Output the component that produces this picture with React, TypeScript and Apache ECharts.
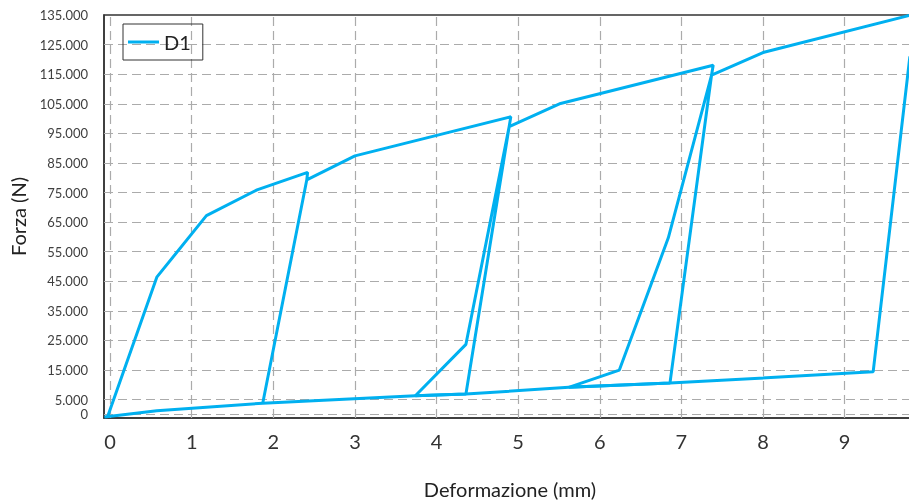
import React, { useEffect, useRef } from "react";
import * as echarts from "echarts";

// Main loading / unloading path (Deformazione mm, Forza N)
const cycleX = [-0.03, 0.572, 1.18, 1.8, 2.42, 2.41, 1.87, 2.41, 3.0, 4.91, 4.89, 4.36, 3.74, 4.36, 4.89, 5.52, 7.39, 7.37, 6.86, 5.62, 6.24, 6.84, 7.37, 8.0, 9.8];
const cycleY = [-700, 46400, 67200, 75900, 81800, 79300, 3800, 79300, 87400, 100600, 97300, 6900, 6330, 23700, 97300, 105100, 118000, 114700, 10600, 9160, 15000, 59700, 114700, 122300, 134900];

// Lower (residual) path
const baseX = [-0.07, 0.572, 1.87, 3.74, 4.36, 5.62, 6.86, 9.35, 9.8];
const baseY = [-900, 1280, 3800, 6330, 6900, 9160, 10600, 14400, 121000];

const xTicks = [0, 1, 2, 3, 4, 5, 6, 7, 8, 9];
const yTicks = [0, 5000, 15000, 25000, 35000, 45000, 55000, 65000, 75000, 85000, 95000, 105000, 115000, 125000, 135000];

const seriesName = "D1";
const xName = "Deformazione (mm)";
const yName = "Forza (N)";

const fmtY = (v: number) =>
  v === 0 ? "0" : `${Math.floor(v / 1000)}.${String(v % 1000).padStart(3, "0")}`;

export default function App() {
  const ref = useRef<HTMLDivElement>(null);
  useEffect(() => {
    if (!ref.current) return;
    const chart = echarts.init(ref.current, undefined, { renderer: "svg" });
    const lineColor = "#00B0F0";
    const gridLineStyle = { color: "#ababab", width: 1.2, type: [9, 5] as any };
    chart.setOption({
      animation: false,
      textStyle: { fontFamily: "Lato" },
      grid: {
        left: 104,
        top: 15,
        right: 4,
        bottom: 85,
        show: true,
        borderColor: "#333",
        borderWidth: 1.5,
        backgroundColor: "transparent",
      },
      legend: {
        data: [seriesName],
        left: 123,
        top: 24,
        orient: "horizontal",
        icon: "rect",
        itemWidth: 31,
        itemHeight: 3,
        padding: [8, 12, 8, 5],
        borderColor: "#333",
        borderWidth: 1,
        textStyle: { fontFamily: "Lato", fontSize: 20, color: "#222" },
      },
      xAxis: {
        type: "value",
        min: -0.075,
        max: 9.875,
        name: xName,
        nameLocation: "middle",
        nameGap: 61,
        nameTextStyle: { fontFamily: "Lato", fontSize: 20, color: "#222" },
        axisLine: { show: true, onZero: false, lineStyle: { color: "#333", width: 1.5 } },
        axisTick: { show: false, customValues: xTicks },
        axisLabel: { customValues: xTicks, fontSize: 20, color: "#333", margin: 13, fontFamily: "Lato" },
        splitLine: { show: false },
      },
      yAxis: {
        type: "value",
        min: -1200,
        max: 135000,
        name: yName,
        nameLocation: "middle",
        nameGap: 76,
        nameRotate: 90,
        nameTextStyle: { fontFamily: "Lato", fontSize: 20, color: "#222" },
        axisLine: { show: true, onZero: false, lineStyle: { color: "#333", width: 1.5 } },
        axisTick: { show: false, customValues: yTicks },
        axisLabel: {
          customValues: yTicks,
          fontSize: 13,
          color: "#404040",
          margin: 16,
          fontFamily: "Lato",
          formatter: (v: number) => fmtY(v),
        },
        splitLine: { show: false },
      },
      series: [
        {
          name: seriesName,
          type: "line",
          data: baseX.map((x, i) => [x, baseY[i]]),
          showSymbol: false,
          symbol: "none",
          color: lineColor,
          lineStyle: { color: lineColor, width: 3 },
          z: 3,
          markLine: {
            silent: true,
            z: 1,
            symbol: ["none", "none"],
            label: { show: false },
            emphasis: { disabled: true },
            lineStyle: gridLineStyle,
            data: [
              ...xTicks.map((v) => ({ xAxis: v })),
              ...yTicks.filter((v) => v < 135000).map((v) => ({ yAxis: v })),
            ],
          },
        },
        {
          name: seriesName,
          type: "line",
          data: cycleX.map((x, i) => [x, cycleY[i]]),
          showSymbol: false,
          symbol: "none",
          color: lineColor,
          lineStyle: { color: lineColor, width: 3 },
          z: 3,
        },
      ],
    });
    return () => chart.dispose();
  }, []);
  return (
    <div style={{ position: "fixed", left: 0, top: 0, width: 909, height: 504, overflow: "hidden" }}>
      <div ref={ref} style={{ position: "absolute", left: 0, top: 0, width: 920, height: 504 }} />
    </div>
  );
}
